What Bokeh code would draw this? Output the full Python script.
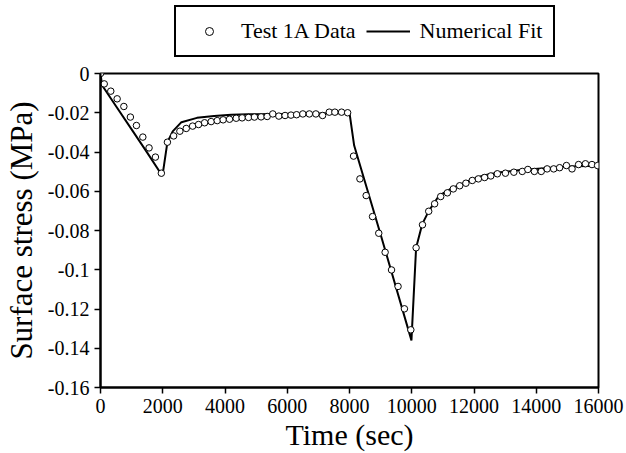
from bokeh.plotting import figure
from bokeh.models import Range1d, FixedTicker, Legend, LegendItem
from bokeh.layouts import column
from bokeh.embed import file_html
from bokeh.resources import INLINE

# Test 1A data (time in sec, surface stress in MPa)
data_t = [0, 120, 330, 535, 750, 960, 1155, 1360, 1560, 1765, 1955,
          2150, 2350, 2550, 2755, 2960, 3150, 3345, 3555, 3750, 3940,
          4145, 4360, 4550, 4755, 4945, 5160, 5355, 5535, 5730, 5930,
          6120, 6300, 6500, 6710, 6920, 7135, 7350, 7530, 7745, 7940,
          8130, 8335, 8535, 8740, 8940, 9145, 9350, 9560, 9765, 9970,
          10140, 10345, 10545, 10735, 10930, 11145, 11335, 11540, 11740, 11945,
          12140, 12340, 12540, 12750, 13010, 13280, 13550, 13730, 13940, 14160,
          14350, 14560, 14750, 14970, 15150, 15360, 15580, 15790, 15970]
data_s = [0, -0.0053, -0.0090, -0.0129, -0.0168, -0.0222, -0.0265, -0.0324, -0.0379, -0.0426, -0.0508,
          -0.0350, -0.0318, -0.0294, -0.0280, -0.0268, -0.0260, -0.0251, -0.0245, -0.0240, -0.0236,
          -0.0233, -0.0228, -0.0226, -0.0224, -0.0222, -0.0221, -0.0219, -0.0206, -0.0217, -0.0214,
          -0.0212, -0.0210, -0.0206, -0.0206, -0.0206, -0.0214, -0.0197, -0.0197, -0.0197, -0.0200,
          -0.0421, -0.0537, -0.0622, -0.0729, -0.0814, -0.0911, -0.1001, -0.1085, -0.1199, -0.1306,
          -0.0888, -0.0771, -0.0702, -0.0664, -0.0627, -0.0608, -0.0588, -0.0572, -0.0559, -0.0545,
          -0.0537, -0.0530, -0.0522, -0.0511, -0.0508, -0.0503, -0.0499, -0.0489, -0.0499, -0.0499,
          -0.0486, -0.0486, -0.0480, -0.0469, -0.0486, -0.0464, -0.0460, -0.0464, -0.0469]

# Numerical fit
fit_t = [0, 50, 500, 1000, 1500, 1990, 2150, 2320, 2600, 3100, 3650, 4200, 4750, 5800,
         7000, 8000, 8150, 9000, 9990, 10140, 10340, 10550, 10880, 11250, 11800,
         12300, 12850, 13500, 14500, 15300, 16000]
fit_s = [0, -0.0060, -0.0167, -0.0285, -0.0403, -0.0522, -0.0350, -0.0295, -0.0248, -0.0226,
         -0.0216, -0.0210, -0.0208, -0.0206, -0.0204, -0.0201, -0.0367, -0.0820, -0.1360,
         -0.0888, -0.0766, -0.0700, -0.0622, -0.0588, -0.0549, -0.0520, -0.0503, -0.0492,
         -0.0480, -0.0473, -0.0470]

x_ticks = [0, 2000, 4000, 6000, 8000, 10000, 12000, 14000, 16000]
y_ticks = [0, -0.02, -0.04, -0.06, -0.08, -0.1, -0.12, -0.14, -0.16]
y_tick_labels = ["0", "-0.02", "-0.04", "-0.06", "-0.08", "-0.1", "-0.12", "-0.14", "-0.16"]
legend_labels = ["Test 1A Data", "Numerical Fit"]

FONT = "Liberation Serif"
LEG_H = 64

p = figure(width=626, height=453 - LEG_H, output_backend="svg", toolbar_location=None,
           x_range=Range1d(0, 16000), y_range=Range1d(-0.16, 0),
           min_border_left=99, min_border_right=28, min_border_top=73 - LEG_H,
           min_border_bottom=66)
p.background_fill_color = "white"
p.border_fill_color = "white"
p.outline_line_color = "black"
p.outline_line_width = 2
p.grid.visible = False

for ax in (p.xaxis[0], p.yaxis[0]):
    ax.axis_line_width = 2
    ax.axis_line_color = "black"
    ax.major_tick_line_width = 1.5
    ax.major_tick_line_color = "black"
    ax.major_tick_out = 6
    ax.major_tick_in = 0
    ax.minor_tick_line_color = None
    ax.major_label_text_font = FONT
    ax.major_label_text_font_size = "20px"
    ax.major_label_text_color = "black"
    ax.axis_label_text_font = FONT
    ax.axis_label_text_font_style = "normal"
    ax.axis_label_text_color = "black"

p.xaxis[0].ticker = FixedTicker(ticks=x_ticks)
p.yaxis[0].ticker = FixedTicker(ticks=y_ticks)
p.yaxis[0].major_label_overrides = {t: l for t, l in zip(y_ticks, y_tick_labels)}
p.xaxis[0].major_label_overrides = {t: str(t) for t in x_ticks}
p.xaxis[0].axis_label = "Time (sec)"
p.xaxis[0].axis_label_text_font_size = "30px"
p.xaxis[0].axis_label_standoff = 2
p.yaxis[0].axis_label = "Surface stress (MPa)"
p.yaxis[0].axis_label_text_font_size = "31px"
p.yaxis[0].axis_label_standoff = 6

p.line(fit_t, fit_s, line_color="black", line_width=2)
p.scatter(data_t, data_s, marker="circle", size=6.5,
          fill_color="white", line_color="black", line_width=1)

# Legend strip above the plot (a legend is clipped to its own frame)
lf = figure(width=626, height=LEG_H, output_backend="svg", toolbar_location=None,
            x_axis_type=None, y_axis_type=None, x_range=Range1d(0, 1), y_range=Range1d(0, 1),
            min_border_left=99, min_border_right=28, min_border_top=0, min_border_bottom=0)
lf.outline_line_color = None
lf.grid.visible = False
lf.background_fill_color = "white"
lf.border_fill_color = "white"
# proxies for the legend glyphs, kept outside the visible range
l_dat = lf.scatter([-5], [-5], marker="circle", size=6,
                   fill_color="white", line_color="black", line_width=1)
l_fit = lf.line([-5, -4], [-5, -4], line_color="black", line_width=2)

legend = Legend(items=[LegendItem(label=legend_labels[0], renderers=[l_dat]),
                       LegendItem(label=legend_labels[1], renderers=[l_fit])],
                orientation="horizontal", location=(74, 7))
legend.label_text_font = FONT
legend.label_text_font_size = "22px"
legend.label_text_color = "black"
legend.border_line_color = "black"
legend.border_line_alpha = 1
legend.border_line_width = 2
legend.background_fill_alpha = 1
legend.padding = 11
legend.spacing = 10
legend.label_standoff = 10
legend.glyph_width = 44
legend.glyph_height = 20
legend.label_height = 20
legend.margin = 0
lf.add_layout(legend, "center")

layout = column(lf, p, spacing=0)
open("out.html", "w").write(file_html(layout, INLINE))
